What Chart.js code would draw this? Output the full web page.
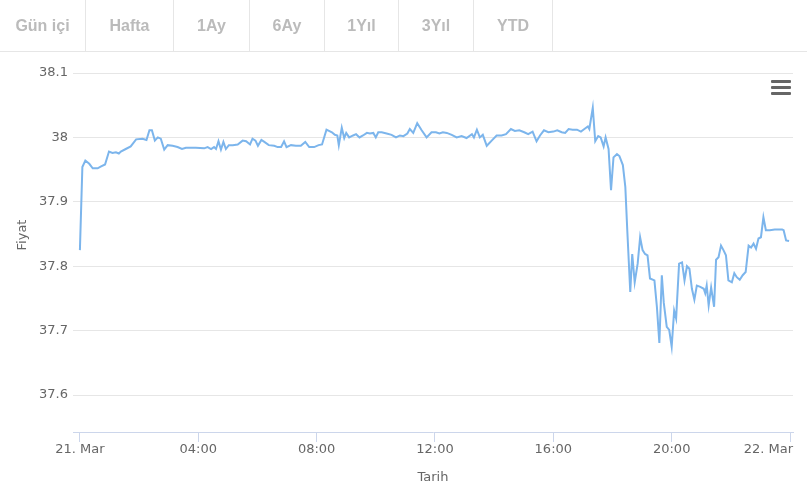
<!DOCTYPE html>
<html>
<head>
<meta charset="utf-8">
<script src="https://cdn.jsdelivr.net/npm/chart.js@4"></script>
<style>
  body { margin: 0; background: #fff; font-family: "Liberation Sans", Arial, sans-serif; }
  #wrap { position: relative; width: 807px; height: 492px; overflow: hidden; }
  #chart { position: absolute; left: 0; top: 0; }
  #tabs { position: absolute; left: 0; top: 0; width: 807px; height: 51px; border-bottom: 1px solid #e6e6e6; display: flex; }
  #tabs div { height: 51px; line-height: 51px; text-align: center; border-right: 1px solid #e6e6e6; color: #bbb; font-weight: bold; font-size: 16px; box-sizing: border-box; }
  #menu { position: absolute; left: 771px; top: 80px; width: 20px; }
  #menu span { display: block; height: 3px; background: #666; border-radius: 1px; margin-bottom: 3px; }
</style>
</head>
<body>
<div id="wrap">
  <canvas id="chart" width="807" height="492"></canvas>
  <div id="tabs"></div>
  <div id="menu"><span></span><span></span><span></span></div>
</div>
<script>
// range buttons on top
let tabNames = ['Gün içi', 'Hafta', '1Ay', '6Ay', '1Yıl', '3Yıl', 'YTD'];
let tabWidths = [86, 88, 76, 75, 74, 75, 79];

// minutes after 21 Mar 00:00
let times = [
    0, 5, 11, 19, 26, 36, 43, 51, 59, 66,
    73, 79, 83, 93, 103, 114, 127, 135, 141, 146,
    152, 158, 164, 171, 178, 188, 198, 207, 215, 235,
    252, 259, 266, 272, 276, 281, 286, 291, 296, 302,
    310, 320, 330, 337, 345, 350, 356, 361, 368, 374,
    383, 394, 401, 408, 414, 419, 428, 438, 448, 457,
    465, 475, 484, 491, 500, 511, 517, 522, 525, 531,
    536, 540, 546, 554, 560, 567, 574, 582, 588, 595,
    600, 605, 612, 622, 632, 641, 649, 656, 664, 669,
    676, 684, 693, 703, 713, 722, 729, 736, 744, 754,
    764, 774, 784, 795, 799, 805, 811, 817, 825, 835,
    845, 855, 864, 874, 882, 891, 901, 909, 918, 926,
    933, 941, 950, 960, 968, 977, 984, 991, 999, 1008,
    1016, 1023, 1030, 1033, 1040, 1045, 1051, 1056, 1062, 1066,
    1072, 1077, 1082, 1089, 1094, 1101, 1106, 1110, 1116, 1120,
    1125, 1131, 1136, 1141, 1146, 1151, 1156, 1165, 1170, 1175,
    1180, 1184, 1190, 1195, 1200, 1205, 1209, 1215, 1221, 1226,
    1231, 1236, 1241, 1246, 1251, 1258, 1265, 1268, 1271, 1275,
    1280, 1286, 1290, 1295, 1300, 1305, 1310, 1315, 1322, 1327,
    1332, 1338, 1344, 1350, 1356, 1361, 1366, 1371, 1376, 1381,
    1386, 1391, 1399, 1409, 1424, 1427, 1432, 1438
];

let prices = [
    37.825, 37.954, 37.964, 37.959, 37.952, 37.952, 37.955, 37.958, 37.978, 37.976,
    37.977, 37.975, 37.978, 37.982, 37.986, 37.997, 37.998, 37.996, 38.011, 38.011,
    37.995, 38.000, 37.998, 37.981, 37.988, 37.987, 37.985, 37.982, 37.984, 37.984,
    37.983, 37.985, 37.982, 37.985, 37.982, 37.994, 37.981, 37.993, 37.982, 37.988,
    37.988, 37.989, 37.995, 37.994, 37.989, 37.998, 37.995, 37.987, 37.996, 37.993,
    37.988, 37.987, 37.985, 37.985, 37.994, 37.985, 37.988, 37.987, 37.987, 37.993,
    37.985, 37.985, 37.988, 37.989, 38.012, 38.008, 38.004, 38.003, 37.988, 38.015,
    37.999, 38.007, 38.000, 38.003, 38.005, 38.000, 38.003, 38.007, 38.006, 38.007,
    38.000, 38.008, 38.008, 38.006, 38.004, 38.000, 38.003, 38.002, 38.006, 38.013,
    38.007, 38.022, 38.011, 38.000, 38.008, 38.008, 38.006, 38.008, 38.007, 38.004,
    38.000, 38.002, 37.999, 38.005, 38.000, 38.012, 38.000, 38.004, 37.987, 37.995,
    38.003, 38.003, 38.005, 38.013, 38.010, 38.011, 38.008, 38.005, 38.009, 37.994,
    38.003, 38.011, 38.008, 38.009, 38.011, 38.008, 38.007, 38.013, 38.012, 38.012,
    38.009, 38.013, 38.017, 38.013, 38.046, 37.994, 38.002, 38.000, 37.986, 38.000,
    37.982, 37.918, 37.969, 37.974, 37.971, 37.957, 37.923, 37.855, 37.760, 37.819,
    37.775, 37.804, 37.845, 37.825, 37.819, 37.817, 37.781, 37.778, 37.737, 37.681,
    37.786, 37.743, 37.706, 37.701, 37.675, 37.731, 37.719, 37.804, 37.806, 37.778,
    37.800, 37.796, 37.765, 37.748, 37.770, 37.768, 37.765, 37.758, 37.770, 37.739,
    37.767, 37.737, 37.810, 37.814, 37.832, 37.825, 37.817, 37.778, 37.775, 37.789,
    37.783, 37.779, 37.786, 37.791, 37.832, 37.829, 37.835, 37.827, 37.843, 37.845,
    37.876, 37.856, 37.856, 37.857, 37.857, 37.856, 37.840, 37.839
];

let xTicks = [0, 240, 480, 720, 960, 1200, 1440];
let xTickLabels = ['21. Mar', '04:00', '08:00', '12:00', '16:00', '20:00', '22. Mar'];
let yTicks = [37.6, 37.7, 37.8, 37.9, 38, 38.1];

let tabs = document.getElementById('tabs');
tabNames.forEach((name, i) => {
    let d = document.createElement('div');
    d.textContent = name;
    d.style.width = tabWidths[i] + 'px';
    tabs.appendChild(d);
});

const FONT = '"DejaVu Sans", Verdana, sans-serif';

// x labels (last one kept inside the plot) and the y title
let labelPlugin = {
    id: 'labels',
    afterDraw(chart) {
        let ctx = chart.ctx;
        let xs = chart.scales.x;
        ctx.save();
        ctx.font = '13px ' + FONT;
        ctx.fillStyle = '#666';
        ctx.textBaseline = 'middle';
        xTicks.forEach((v, i) => {
            let last = i === xTicks.length - 1;
            ctx.textAlign = last ? 'right' : 'center';
            let px = last ? xs.right : xs.getPixelForValue(v);
            ctx.fillText(xTickLabels[i], px, xs.top + 18);
        });
        ctx.translate(22.5, 235);
        ctx.rotate(-Math.PI / 2);
        ctx.textAlign = 'center';
        ctx.fillText('Fiyat', 0, 0);
        ctx.restore();
    }
};

let chart = new Chart(document.getElementById('chart').getContext('2d'), {
    type: 'line',
    data: {
        datasets: [{
            data: times.map((t, i) => ({ x: t, y: prices[i] })),
            borderColor: '#7cb5ec',
            borderWidth: 2,
            pointRadius: 0,
            tension: 0,
            fill: false
        }]
    },
    options: {
        responsive: false,
        animation: false,
        devicePixelRatio: 1,
        layout: { padding: { top: 73, right: 14, left: 0, bottom: 0 } },
        plugins: {
            legend: { display: false },
            tooltip: { enabled: false }
        },
        scales: {
            x: {
                type: 'linear',
                min: -14,
                max: 1446,
                afterBuildTicks: s => { s.ticks = xTicks.map(v => ({ value: v })); },
                afterFit: s => { s.height = 60; s.paddingLeft = 0; s.paddingRight = 0; },
                ticks: { display: false },
                grid: {
                    drawOnChartArea: false,
                    drawTicks: true,
                    tickLength: 10,
                    color: '#ccd6eb'
                },
                border: { color: '#ccd6eb' },
                title: {
                    display: true,
                    text: 'Tarih',
                    color: '#666',
                    font: { family: FONT, size: 13 },
                    padding: { top: 4, bottom: 7 }
                }
            },
            y: {
                min: 37.5426,
                max: 38.1,
                afterBuildTicks: s => { s.ticks = yTicks.map(v => ({ value: v })); },
                afterFit: s => { s.width = 73; },
                ticks: {
                    padding: 5,
                    color: '#666',
                    font: { family: FONT, size: 13 },
                    callback: v => String(+v.toFixed(1))
                },
                grid: { color: '#e6e6e6', drawTicks: false },
                border: { display: false }
            }
        }
    },
    plugins: [labelPlugin]
});
</script>
</body>
</html>
